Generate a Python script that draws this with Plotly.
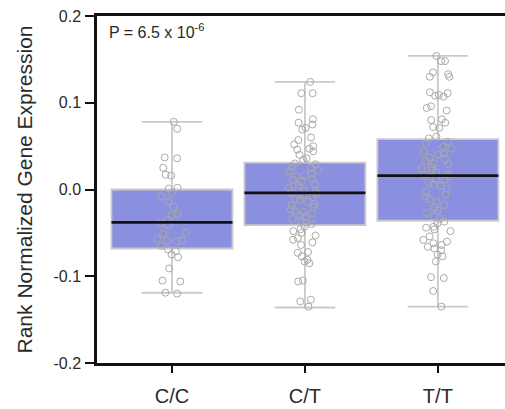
import plotly.graph_objects as go

categories = ["C/C", "C/T", "T/T"]

# box statistics
q1 = [-0.068, -0.041, -0.036]
medians = [-0.038, -0.004, 0.016]
q3 = [0.000, 0.031, 0.058]
lower_whisker = [-0.119, -0.136, -0.135]
upper_whisker = [0.078, 0.124, 0.154]

# individual sample points
cc_values = [0.078, 0.070, 0.036, 0.037, 0.025, 0.016, 0.017, 0.002, 0.001, -0.004,
             -0.008, -0.014, -0.020, -0.028, -0.030, -0.035, -0.039, -0.041, -0.050,
             -0.051, -0.057, -0.059, -0.059, -0.060, -0.065, -0.069, -0.071, -0.075,
             -0.078, -0.091, -0.105, -0.106, -0.119, -0.120]

ct_values = [0.124, 0.111, 0.111, 0.092, 0.081, 0.077, 0.075, 0.071, 0.069, 0.060,
             0.057, 0.052, 0.050, 0.047, 0.046, 0.044, 0.040, 0.036, 0.034,
             0.030, 0.029, 0.026, 0.025, 0.022, 0.021, 0.018, 0.017, 0.015, 0.012,
             0.011, 0.009, 0.006, 0.005, 0.002, 0.001, -0.001, -0.003, -0.004, -0.005,
             -0.007, -0.009, -0.011, -0.012, -0.014, -0.017, -0.018, -0.020, -0.023,
             -0.025, -0.026, -0.028, -0.031, -0.032, -0.034, -0.036, -0.038, -0.040,
             -0.043, -0.046, -0.048, -0.050, -0.053, -0.056, -0.058, -0.061, -0.064,
             -0.072, -0.073, -0.077, -0.081, -0.083, -0.085, -0.105, -0.106, -0.127,
             -0.129, -0.135]

tt_values = [0.154, 0.148, 0.148, 0.135, 0.133, 0.130, 0.130, 0.111, 0.108, 0.107,
             0.109, 0.112, 0.096, 0.094, 0.091, 0.081, 0.080, 0.077, 0.072, 0.071,
             0.061, 0.059, 0.055, 0.053, 0.049, 0.047, 0.044, 0.042, 0.040, 0.037,
             0.035, 0.033, 0.030, 0.029, 0.026, 0.024, 0.022, 0.020, 0.018, 0.017,
             0.015, 0.012, 0.011, 0.008, 0.006, 0.004, 0.001, -0.003, -0.006, -0.008,
             -0.011, -0.014, -0.018, -0.021, -0.024, -0.027, -0.031, -0.034,
             -0.037, -0.039, -0.043, -0.044, -0.046, -0.048, -0.054, -0.058, -0.060,
             -0.062, -0.064, -0.066, -0.068, -0.070, -0.075, -0.077, -0.083, -0.101,
             -0.102, -0.117, -0.135]

point_values = [cc_values, ct_values, tt_values]

y_ticks = [-0.2, -0.1, 0.0, 0.1, 0.2]
y_tick_labels = ["-0.2", "-0.1", "0.0", "0.1", "0.2"]

BOX_FILL = "#8b8fdf"
BOX_LINE = "#cacaca"
POINT_COLOR = "#aaaaaa"
FONT = "Liberation Sans, Arial, Helvetica, sans-serif"
TEXT = "#2a2a2a"

fig = go.Figure()

# boxes with whiskers (precomputed stats)
fig.add_trace(go.Box(
    x=categories, q1=q1, median=medians, q3=q3,
    lowerfence=lower_whisker, upperfence=upper_whisker,
    width=0.91, whiskerwidth=0.5,
    fillcolor=BOX_FILL, line=dict(color=BOX_LINE, width=1.8),
    boxpoints=False, showlegend=False, hoverinfo="skip",
))

# jittered points
for cat, vals in zip(categories, point_values):
    fig.add_trace(go.Box(
        x=[cat] * len(vals), y=vals,
        width=0.91, boxpoints="all", jitter=0.28, pointpos=0,
        fillcolor="rgba(0,0,0,0)", line=dict(color="rgba(0,0,0,0)", width=0),
        marker=dict(symbol="circle-open", size=7, color=POINT_COLOR,
                    line=dict(width=1, color=POINT_COLOR)),
        showlegend=False,
    ))

# median lines
fig.add_trace(go.Box(
    x=categories, q1=medians, median=medians, q3=medians,
    lowerfence=medians, upperfence=medians,
    width=0.91, whiskerwidth=0,
    fillcolor="rgba(0,0,0,0)", line=dict(color="#111111", width=2.8),
    boxpoints=False, showlegend=False, hoverinfo="skip",
))

fig.add_annotation(
    text="P = 6.5 x 10<sup>-6</sup>", xref="paper", yref="paper",
    x=0.024, y=0.99, xanchor="left", yanchor="top", showarrow=False,
    font=dict(family=FONT, size=16, color=TEXT),
)

fig.update_layout(
    width=505, height=409,
    margin=dict(l=97, r=0, t=16, b=46, autoexpand=False),
    paper_bgcolor="white", plot_bgcolor="white",
    boxmode="overlay",
    font=dict(family=FONT, color=TEXT),
    xaxis=dict(
        type="category", categoryorder="array", categoryarray=categories,
        range=[-0.564, 2.505], automargin=False,
        showline=True, linecolor="#111111", linewidth=2.5, mirror=True,
        ticks="outside", ticklen=7, tickwidth=2, tickcolor="#111111",
        ticklabelstandoff=6,
        tickfont=dict(size=20, family=FONT, color=TEXT),
        showgrid=False, zeroline=False,
    ),
    yaxis=dict(
        range=[-0.2, 0.2], tickvals=y_ticks, ticktext=y_tick_labels,
        automargin=False,
        showline=True, linecolor="#111111", linewidth=2.5,
        ticks="outside", ticklen=9, tickwidth=2, tickcolor="#111111",
        ticklabelstandoff=1,
        tickfont=dict(size=16, family=FONT, color=TEXT),
        showgrid=False, zeroline=False,
        title=dict(text="Rank Normalized Gene Expression",
                   font=dict(size=21, family=FONT, color=TEXT), standoff=16),
    ),
)

fig.write_html("out.html")
